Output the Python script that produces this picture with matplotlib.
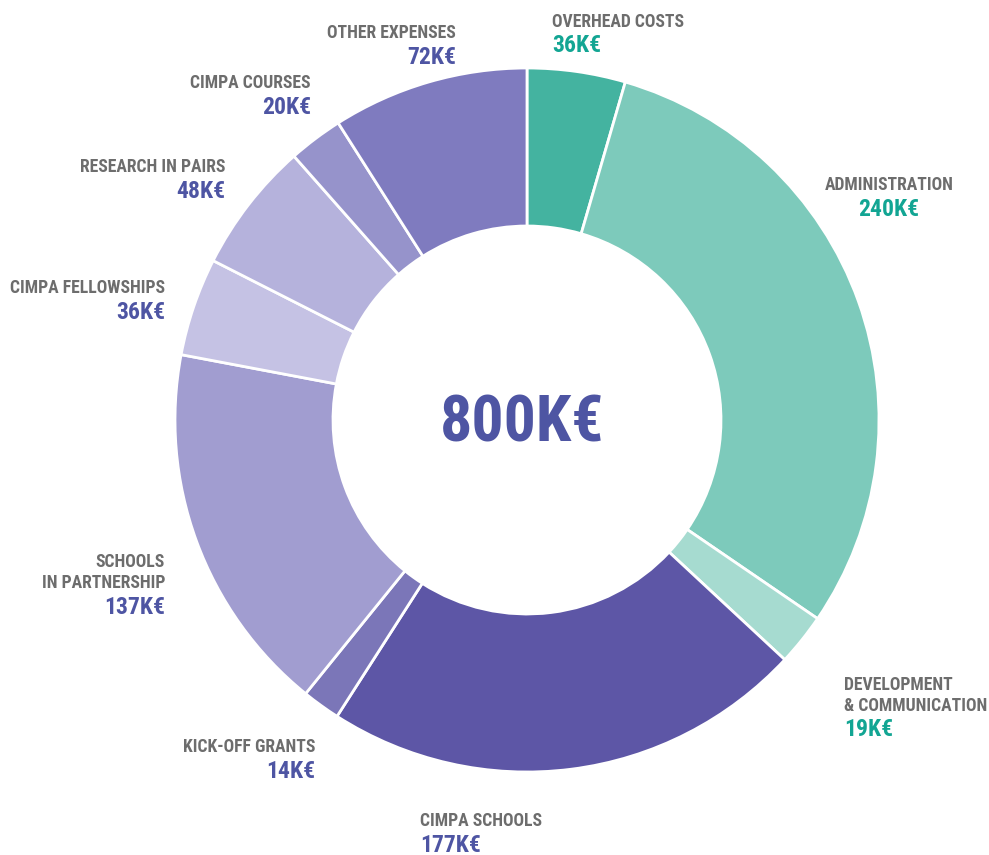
import matplotlib
matplotlib.use("Agg")
import matplotlib.pyplot as plt
from matplotlib import font_manager

# budget breakdown, clockwise from 12 o'clock
labels = ["OVERHEAD COSTS", "ADMINISTRATION", "DEVELOPMENT\n& COMMUNICATION",
          "CIMPA SCHOOLS", "KICK-OFF GRANTS", "SCHOOLS\nIN PARTNERSHIP",
          "CIMPA FELLOWSHIPS", "RESEARCH IN PAIRS", "CIMPA COURSES",
          "OTHER EXPENSES"]
values = [36, 240, 19, 177, 14, 137, 36, 48, 20, 72]
colors = ["#44b3a0", "#7dcabb", "#a6dbd0", "#5d56a6", "#7b76b8",
          "#a19dd0", "#c5c2e4", "#b5b2dc", "#9693cb", "#7f7bbf"]
total_label = "800K€"

W, H = 989, 855
names = {f.name for f in font_manager.fontManager.ttflist}
fam = [f for f in ["Roboto Condensed", "Liberation Sans Narrow", "DejaVu Sans"] if f in names]
plt.rcParams["font.family"] = fam

fig = plt.figure(figsize=(W / 100, H / 100), dpi=100)
ax = fig.add_axes([0, 0, 1, 1])
cx, cy = 527, 420
ax.pie(values, colors=colors, startangle=90, counterclock=False,
       center=(cx, H - cy), radius=352,
       wedgeprops=dict(width=158, edgecolor="white", linewidth=2))
ax.set_xlim(0, W)
ax.set_ylim(0, H)
ax.set_aspect("auto")
ax.axis("off")

grey = "#6d6d6d"
purple = "#4e55a3"
teal = "#12a593"
# first-line centre (px), alignment, value colour
pos = [(552, 22, "left", teal), (889, 185, "center", teal), (844, 685, "left", teal),
       (420, 821, "left", purple), (315, 747, "right", purple), (165, 562, "right", purple),
       (165, 288, "right", purple), (225, 167, "right", purple), (311, 83, "right", purple),
       (456, 33, "right", purple)]
for lab, v, (x, y, ha, c) in zip(labels, values, pos):
    lines = lab.split("\n")
    for i, ln in enumerate(lines):
        fig.text(x / W, 1 - (y + i * 21) / H, ln, ha=ha, va="center", color=grey,
                 fontsize=12.7, fontweight="bold")
    yv = y + 24 + (len(lines) - 1) * 21
    fig.text(x / W, 1 - yv / H, f"{v}K€", ha=ha, va="center",
             color=c, fontsize=17, fontweight="bold")

fig.text(522 / W, 1 - 424 / H, total_label, ha="center", va="center",
         color=purple, fontsize=46, fontweight="bold")

fig.savefig("out.png", dpi=100, facecolor="white")
